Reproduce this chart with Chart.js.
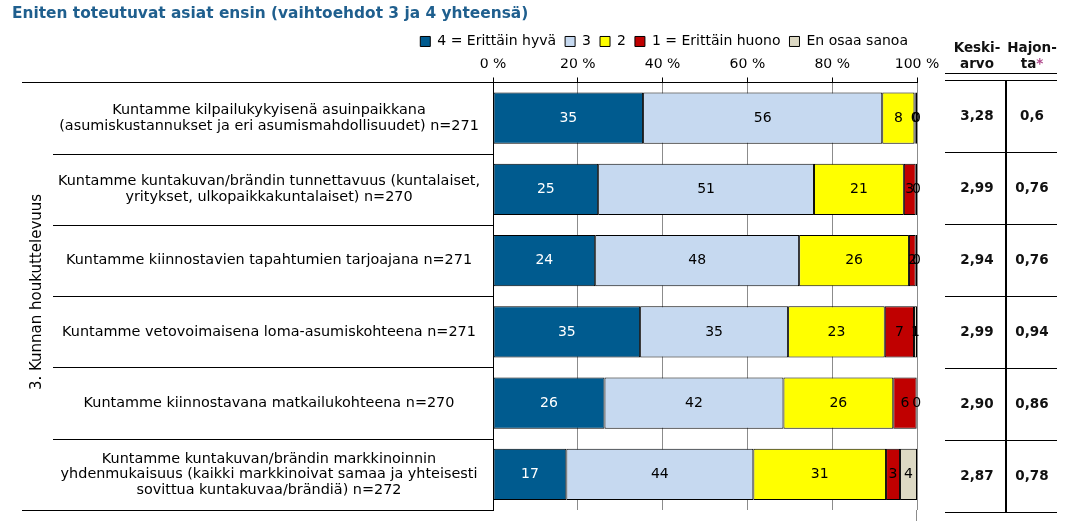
<!DOCTYPE html>
<html>
<head>
<meta charset="utf-8">
<script src="https://cdn.jsdelivr.net/npm/chart.js@4"></script>
<style>
  html, body { margin: 0; padding: 0; background: #fff; }
  #wrap { width: 1070px; height: 527px; }
</style>
</head>
<body>
<div id="wrap"><canvas id="c" width="1070" height="527"></canvas></div>
<script>
const categories = [
  ["Kuntamme kilpailukykyisenä asuinpaikkana", "(asumiskustannukset ja eri asumismahdollisuudet) n=271"],
  ["Kuntamme kuntakuvan/brändin tunnettavuus (kuntalaiset,", "yritykset, ulkopaikkakuntalaiset) n=270"],
  "Kuntamme kiinnostavien tapahtumien tarjoajana n=271",
  "Kuntamme vetovoimaisena loma-asumiskohteena n=271",
  "Kuntamme kiinnostavana matkailukohteena n=270",
  ["Kuntamme kuntakuvan/brändin markkinoinnin", "yhdenmukaisuus (kaikki markkinoivat samaa ja yhteisesti", "sovittua kuntakuvaa/brändiä) n=272"]
];
const seriesNames = ["4 = Erittäin hyvä", "3", "2", "1 = Erittäin huono", "En osaa sanoa"];
const values4 = [35.4, 24.8, 24.1, 34.7, 26.3, 17.3];
const values3 = [56.4, 50.9, 48.1, 34.9, 42.2, 44.1];
const values2 = [7.6, 21.2, 25.9, 22.8, 25.9, 31.3];
const values1 = [0.3, 2.8, 1.6, 6.9, 5.5, 3.3];
const valuesEOS = [0.3, 0.3, 0.3, 0.7, 0.1, 4.0];
const xTicks = [0, 20, 40, 60, 80, 100];
const means = ["3,28", "2,99", "2,94", "2,99", "2,90", "2,87"];
const stdevs = ["0,6", "0,76", "0,76", "0,94", "0,86", "0,78"];
const groupLabel = "3. Kunnan houkuttelevuus";
const titleText = "Eniten toteutuvat asiat ensin (vaihtoehdot 3 ja 4 yhteensä)";

const colors = ["#005B8F", "#C6D9F0", "#FFFF00", "#C00000", "#DDD9C4"];
const labelColors = ["#ffffff", "#000000", "#000000", "#000000", "#000000"];
const FONT = "'DejaVu Sans', Verdana, sans-serif";

const seriesValues = [values4, values3, values2, values1, valuesEOS];

const dataLabelPlugin = {
  id: 'dataLabels',
  afterDatasetsDraw(chart) {
    const ctx = chart.ctx;
    ctx.save();
    ctx.font = "14px " + FONT;
    ctx.textAlign = 'center';
    ctx.textBaseline = 'middle';
    chart.data.datasets.forEach((ds, di) => {
      const meta = chart.getDatasetMeta(di);
      meta.data.forEach((el, i) => {
        const v = ds.data[i];
        const cx = (el.x + el.base) / 2;
        ctx.fillStyle = labelColors[di];
        ctx.fillText(String(Math.round(v)), cx, el.y);
      });
    });
    ctx.restore();
  }
};

const decorPlugin = {
  id: 'decor',
  afterDraw(chart) {
    const ctx = chart.ctx;
    const area = chart.chartArea;
    const y = chart.scales.y;
    const n = categories.length;
    ctx.save();
    ctx.strokeStyle = '#000';
    ctx.lineWidth = 1;
    ctx.beginPath();
    ctx.moveTo(22, Math.round(area.top) + 0.5);
    ctx.lineTo(area.left, Math.round(area.top) + 0.5);
    ctx.moveTo(22, Math.round(area.bottom) + 0.5);
    ctx.lineTo(area.left, Math.round(area.bottom) + 0.5);
    for (let i = 0; i < n - 1; i++) {
      const py = Math.round(y.getPixelForValue(i + 0.5)) + 0.5;
      ctx.moveTo(53, py);
      ctx.lineTo(area.left, py);
    }
    ctx.stroke();
    ctx.strokeStyle = '#8c8c8c';
    ctx.beginPath();
    ctx.moveTo(Math.round(area.right) - 0.5, area.bottom);
    ctx.lineTo(Math.round(area.right) - 0.5, area.bottom + 11);
    ctx.stroke();
    ctx.fillStyle = '#000';
    ctx.font = "15px " + FONT;
    ctx.textAlign = 'center';
    ctx.textBaseline = 'middle';
    ctx.translate(37, 292);
    ctx.rotate(-Math.PI / 2);
    ctx.fillText(groupLabel, 0, 0);
    ctx.restore();

    ctx.save();
    const tLeft = 945, tRight = 1057, tSep = 1006, tTop = 80, tBottom = 512;
    const c1 = 977, c2 = 1032;
    ctx.strokeStyle = '#000';
    ctx.lineWidth = 1;
    ctx.beginPath();
    ctx.moveTo(tLeft, 73.5); ctx.lineTo(tRight, 73.5);
    ctx.moveTo(tLeft, tTop + 0.5); ctx.lineTo(tRight, tTop + 0.5);
    const rowH = (tBottom - tTop) / n;
    for (let i = 1; i <= n; i++) {
      const py = Math.round(tTop + rowH * i) + 0.5;
      ctx.moveTo(tLeft, py); ctx.lineTo(tRight, py);
    }
    ctx.stroke();
    ctx.lineWidth = 2;
    ctx.beginPath();
    ctx.moveTo(tSep, tTop); ctx.lineTo(tSep, tBottom);
    ctx.stroke();

    ctx.font = "bold 13.5px " + FONT;
    ctx.fillStyle = '#111';
    ctx.textAlign = 'center';
    ctx.textBaseline = 'middle';
    ctx.fillText("Keski-", c1, 48);
    ctx.fillText("arvo", c1, 64);
    ctx.fillText("Hajon-", c2, 48);
    const wTa = ctx.measureText("ta").width;
    const wStar = ctx.measureText("*").width;
    const startX = c2 - (wTa + wStar) / 2;
    ctx.textAlign = 'left';
    ctx.fillText("ta", startX, 64);
    ctx.fillStyle = '#B04A8C';
    ctx.fillText("*", startX + wTa, 64);
    ctx.fillStyle = '#111';
    ctx.textAlign = 'center';
    for (let i = 0; i < n; i++) {
      const py = tTop + rowH * (i + 0.5);
      ctx.fillText(means[i], c1, py);
      ctx.fillText(stdevs[i], c2, py);
    }
    ctx.restore();
  }
};

const datasets = seriesNames.map((name, i) => ({
  label: name,
  data: seriesValues[i],
  backgroundColor: colors[i],
  borderColor: '#000',
  borderWidth: 1,
  borderSkipped: false,
  barPercentage: 0.72,
  categoryPercentage: 1.0
}));

new Chart(document.getElementById('c'), {
  type: 'bar',
  data: { labels: categories, datasets },
  options: {
    indexAxis: 'y',
    responsive: false,
    animation: false,
    layout: { padding: { left: 12, right: 153, top: 0, bottom: 17 } },
    plugins: {
      title: {
        display: true,
        text: titleText,
        align: 'start',
        color: '#1F5F8E',
        font: { family: FONT, size: 15.4, weight: 'bold' },
        padding: { top: 5, bottom: 2 }
      },
      legend: {
        display: true,
        position: 'top',
        align: 'end',
        labels: {
          color: '#000',
          font: { family: FONT, size: 14 },
          boxWidth: 10,
          boxHeight: 10,
          padding: 9
        }
      },
      tooltip: { enabled: false }
    },
    scales: {
      x: {
        position: 'top',
        stacked: true,
        min: 0,
        max: 100,
        afterBuildTicks(s) { s.ticks = xTicks.map(v => ({ value: v })); },
        afterFit(s) { s.height = 24; },
        ticks: {
          color: '#000',
          font: { family: FONT, size: 14 },
          padding: 5,
          callback: v => v + ' %'
        },
        grid: {
          color: ctx => (ctx.tick && ctx.tick.value === 0) ? '#000' : '#8c8c8c',
          tickColor: '#000',
          tickLength: 5,
          lineWidth: 1
        },
        border: { display: true, color: '#000', width: 1 }
      },
      y: {
        stacked: true,
        afterFit(s) { s.width = 481; s.paddingTop = 0; s.paddingBottom = 0; },
        ticks: {
          color: '#000',
          crossAlign: 'center',
          padding: 13,
          font: { family: FONT, size: 14.4, lineHeight: 1.08 }
        },
        grid: { display: false, drawTicks: false },
        border: { display: true, color: '#000', width: 1 }
      }
    }
  },
  plugins: [dataLabelPlugin, decorPlugin]
});
</script>
</body>
</html>
